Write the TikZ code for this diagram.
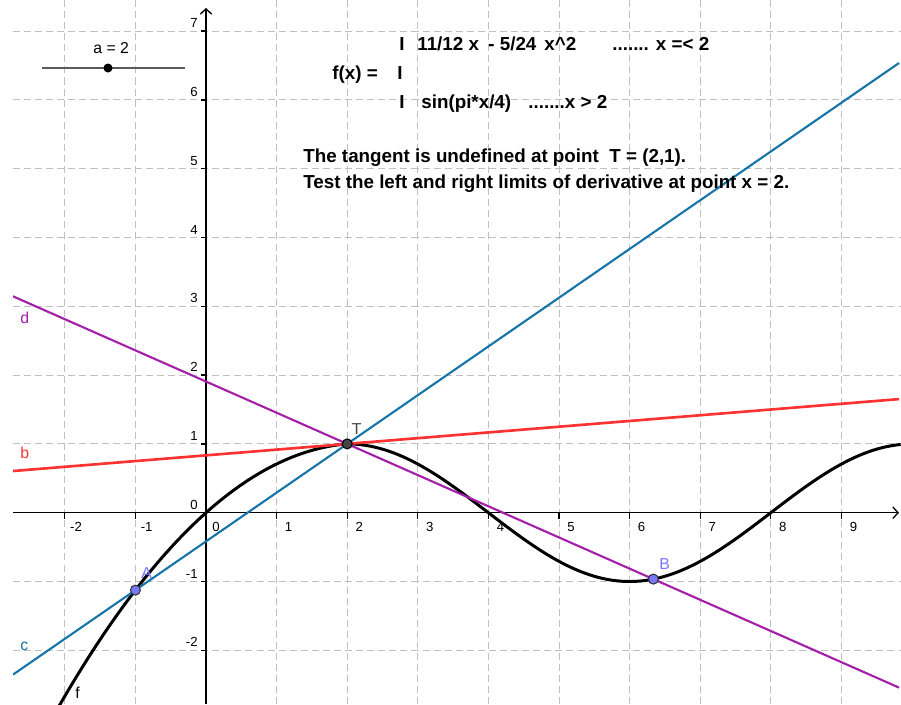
\documentclass[tikz,border=0pt]{standalone}
\usepackage{fontspec}
\setmainfont{Liberation Sans}
\usetikzlibrary{arrows.meta}
\definecolor{gridc}{RGB}{192,192,192}
\definecolor{cblue}{RGB}{22,117,168}
\definecolor{bred}{RGB}{255,50,50}
\definecolor{dpurple}{RGB}{165,30,170}
\definecolor{ptblue}{RGB}{120,120,255}
\definecolor{tgray}{RGB}{68,68,68}
\definecolor{slidergray}{RGB}{90,90,90}
\begin{document}
\begin{tikzpicture}[x=0.02cm,y=-0.02cm,
  gridline/.style={gridc, line width=0.55pt, dash pattern=on 4pt off 2.3pt},
  axisline/.style={black, line width=0.75pt, -{Straight Barb[length=3pt,width=6.5pt]}},
  tickline/.style={black, line width=0.75pt},
  ticklab/.style={font=\fontsize{7.5}{9}\selectfont, inner sep=0pt},
  biglab/.style={font=\fontsize{10.7}{13}\selectfont\bfseries, inner sep=0pt, anchor=base west},
  curvef/.style={black, line width=1.7pt},
  linec/.style={cblue, line width=1.2pt},
  lineb/.style={bred, line width=1.5pt},
  lined/.style={dpurple, line width=1.2pt},
  objlab/.style={font=\fontsize{9}{11}\selectfont, inner sep=0pt, anchor=base west},
  ptAB/.style={circle, fill=ptblue, draw=black!80, line width=0.6pt, minimum size=0.2cm, inner sep=0pt},
  ptT/.style={circle, fill=tgray, draw=black, line width=0.6pt, minimum size=0.2cm, inner sep=0pt},
  sliderdot/.style={circle, fill=black, minimum size=0.18cm, inner sep=0pt},
]
\useasboundingbox (0,0) rectangle (901,704);
\fill[white] (0,0) rectangle (901,704);

% grid
\foreach \k in {-2,-1,1,2,3,4,5,6,7,8,9}
  \draw[gridline] ({206+70.6*\k},0) -- ({206+70.6*\k},704);
\foreach \k in {-2,-1,1,2,3,4,5,6,7}
  \draw[gridline] (13,{512.7-68.8*\k}) -- (901,{512.7-68.8*\k});

% axes
\coordinate (xs) at (13,512.7);
\coordinate (xe) at (899,512.7);
\coordinate (ys) at (206,704);
\coordinate (ye) at (206,8);
\draw[axisline] (xs) -- (xe);
\draw[axisline] (ys) -- (ye);

% ticks and tick labels
\foreach \k in {-2,-1,1,2,3,4,5,6,7,8,9}
  \draw[tickline] ({206+70.6*\k},512.7) -- ({206+70.6*\k},518.7);
\foreach \k in {-2,-1,1,2,3,4,5,6,7}
  \draw[tickline] (206,{512.7-68.8*\k}) -- (201,{512.7-68.8*\k});
\foreach \k in {-2,-1}
  \node[ticklab, anchor=base west] (xl\k) at ({206+70.6*\k+5},531.7) {\k};
\foreach \k in {1,2,3,4,5,6,7,8,9}
  \node[ticklab, anchor=base west] (xl\k) at ({206+70.6*\k+8},531.7) {\k};
\node[ticklab, anchor=base west] (xl0) at (212,531.7) {0};
\foreach \k in {-2,-1,0,1,2,3,4,5,6,7}
  \node[ticklab, anchor=base east] (yl\k) at (198,{512.7-68.8*\k-3.5}) {\k};

% line end points
\coordinate (cL) at (13,674.6);
\coordinate (cR) at (899,63.0);
\coordinate (dL) at (13,296.3);
\coordinate (dR) at (899,687.6);
\coordinate (bL) at (13,471.0);
\coordinate (bR) at (899,399.1);

\begin{scope}
\clip (13,0) rectangle (901,704);
\draw[curvef] plot[domain=-2.1:2, samples=60, variable=\u]
   ({206+70.6*(\u)},{512.7-68.8*(11/12*(\u)-5/24*(\u)*(\u))})
   -- plot[domain=2:9.84, samples=120, variable=\u]
   ({206+70.6*(\u)},{512.7-68.8*sin(45*(\u))});
\draw[linec] (cL) -- (cR);
\draw[lineb] (bL) -- (bR);
\draw[lined] (dL) -- (dR);
\end{scope}

% object labels
\node[objlab, text=bred] (blab) at (20,458.3) {b};
\node[objlab, text=cblue] (clab) at (20,650.7) {c};
\node[objlab, text=dpurple] (dlab) at (20,323.3) {d};
\node[objlab] (flab) at (75,698.3) {f};

% points
\node[ptT] (T) at (347.2,443.9) {};
\node[ptAB] (A) at (135.4,590.1) {};
\node[ptAB] (B) at (653.3,579.1) {};
\node[objlab, text=tgray] (Tlab) at (351.5,434.3) {T};
\node[objlab, text=ptblue] (Alab) at (141,578.3) {A};
\node[objlab, text=ptblue] (Blab) at (659,569.3) {B};

% slider
\coordinate (sl1) at (42,68);
\coordinate (sl2) at (185,68);
\draw[slidergray, line width=1.1pt] (sl1) -- (sl2);
\node[sliderdot] (sdot) at (108,68) {};
\node[objlab] (alab) at (93,53) {a = 2};

% text
\node[biglab] (bar1) at (399,50) {I};
\node[biglab] (eq1a) at (417,50) {11/12 x};
\node[biglab] (eq1b) at (488,50) {- 5/24};
\node[biglab] (eq1c) at (544,50) {x\textasciicircum 2};
\node[biglab] (cond1) at (612,50) {....... x =< 2};
\node[biglab] (fx) at (332,79) {f(x) =};
\node[biglab] (bar2) at (397,79) {I};
\node[biglab] (bar3) at (399,108) {I};
\node[biglab] (eq3) at (421,108) {sin(pi*x/4)};
\node[biglab] (cond3) at (528,108) {.......x > 2};
\node[biglab] (txt1) at (303,162) {The tangent is undefined at point\ \ T = (2,1).};
\node[biglab] (txt2) at (303,188) {Test the left and right limits of derivative at point x = 2.};
\end{tikzpicture}
\end{document}
